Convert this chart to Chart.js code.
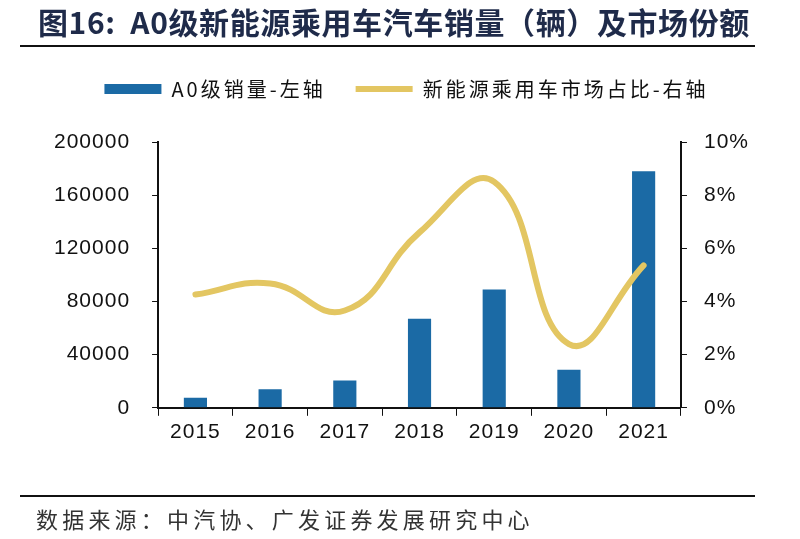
<!DOCTYPE html>
<html>
<head>
<meta charset="utf-8">
<script src="https://cdn.jsdelivr.net/npm/chart.js@4.4.0/dist/chart.umd.min.js"></script>
<style>
  html, body { margin: 0; padding: 0; background: #fff; }
  #page { position: relative; width: 800px; height: 539px; overflow: hidden; }
  #title {
    position: absolute; left: 38px; top: -1px;
    font: bold 30px "Noto Sans CJK SC", "Liberation Sans", sans-serif;
    color: #1f2b4a; white-space: pre; letter-spacing: 0.6px;
  }
  .rule { position: absolute; left: 20px; width: 735px; height: 2px; background: #111; }
  #source {
    position: absolute; left: 36px; top: 502px;
    font: 22px "Noto Sans CJK SC", sans-serif; color: #333; white-space: nowrap; letter-spacing: 4.2px;
  }
  #wrap { position: absolute; left: 0; top: 0; width: 800px; height: 539px; }
</style>
</head>
<body>
<div id="page">
  <div id="wrap"><canvas id="chart"></canvas></div>
  <div id="title">图16:  A0级新能源乘用车汽车销量（辆）及市场份额</div>
  <div class="rule" style="top:45px"></div>
  <div class="rule" style="top:495px"></div>
  <div id="source">数据来源：中汽协、广发证券发展研究中心</div>
</div>
<script>
// Data
const years = ['2015', '2016', '2017', '2018', '2019', '2020', '2021'];
const salesA0 = [7500, 14000, 20500, 67000, 89000, 28700, 178000];
const marketShare = [0.0426, 0.0468, 0.0366, 0.066, 0.085, 0.024, 0.0536];
const leftTicks = [0, 40000, 80000, 120000, 160000, 200000];
const rightTicks = [0, 0.02, 0.04, 0.06, 0.08, 0.10];

const tickFont = { family: '"Liberation Sans", Arial, sans-serif', size: 21 };

// Wider letter spacing for the legend, a small shift, and a gap below it
const legendStyle = {
  id: 'legendStyle',
  beforeUpdate(chart) {
    const lg = chart.legend;
    if (!lg || lg._styled) return;
    lg._styled = true;
    const fit = lg.fit.bind(lg);
    const draw = lg.draw.bind(lg);
    lg.fit = function() {
      const prev = chart.ctx.letterSpacing;
      chart.ctx.letterSpacing = '3px';
      fit();
      chart.ctx.letterSpacing = prev;
      this.height += 33;
    };
    lg.draw = function() {
      const c = chart.ctx;
      const prev = c.letterSpacing;
      c.save();
      c.translate(6, 0);
      c.letterSpacing = '3px';
      draw();
      c.restore();
      c.letterSpacing = prev;
    };
  },
  beforeDraw(chart) { chart.ctx.letterSpacing = '1px'; },
  beforeDatasetsDraw(chart) { chart.ctx.letterSpacing = '0px'; }
};

function initChart() {
  const ctx = document.getElementById('chart').getContext('2d');

  new Chart(ctx, {
    data: {
      labels: years,
      datasets: [
        {
          type: 'line',
          label: '新能源乘用车市场占比-右轴',
          data: marketShare,
          yAxisID: 'y1',
          borderColor: '#e3c662',
          backgroundColor: '#e3c662',
          borderWidth: 6,
          borderCapStyle: 'round',
          tension: 0.45,
          pointRadius: 0,
          pointStyle: 'line',
          order: 1
        },
        {
          type: 'bar',
          label: 'A0级销量-左轴',
          data: salesA0,
          yAxisID: 'y',
          backgroundColor: '#1b6aa5',
          barPercentage: 0.31,
          categoryPercentage: 1,
          pointStyle: 'rect',
          order: 2
        }
      ]
    },
    plugins: [legendStyle],
    options: {
      responsive: true,
      maintainAspectRatio: false,
      animation: false,
      layout: { padding: { left: 38, right: 37, top: 49, bottom: 90 } },
      plugins: {
        legend: {
          position: 'top',
          reverse: true,
          labels: {
            usePointStyle: true,
            pointStyleWidth: 57,
            boxHeight: 10,
            padding: 30,
            color: '#111',
            font: { family: '"Noto Sans CJK SC", sans-serif', size: 20 }
          }
        },
        tooltip: { enabled: false }
      },
      scales: {
        x: {
          grid: { drawOnChartArea: false, color: '#111', tickLength: 8, offset: true },
          border: { color: '#111', width: 2 },
          ticks: { color: '#111', font: tickFont, padding: 4 }
        },
        y: {
          position: 'left',
          min: 0,
          max: 200000,
          afterBuildTicks: axis => { axis.ticks = leftTicks.map(v => ({ value: v })); },
          grid: { drawOnChartArea: false, color: '#111', tickLength: 6 },
          border: { color: '#111', width: 2 },
          ticks: { color: '#111', font: tickFont, padding: 22, callback: v => String(v) }
        },
        y1: {
          position: 'right',
          min: 0,
          max: 0.10,
          afterBuildTicks: axis => { axis.ticks = rightTicks.map(v => ({ value: v })); },
          grid: { drawOnChartArea: false, color: '#111', tickLength: 6 },
          border: { color: '#111', width: 2 },
          ticks: {
            color: '#111',
            font: tickFont,
            padding: 17,
            callback: v => Math.round(v * 100) + '%'
          }
        }
      }
    }
  });
}

document.addEventListener('DOMContentLoaded', initChart);
</script>
</body>
</html>
